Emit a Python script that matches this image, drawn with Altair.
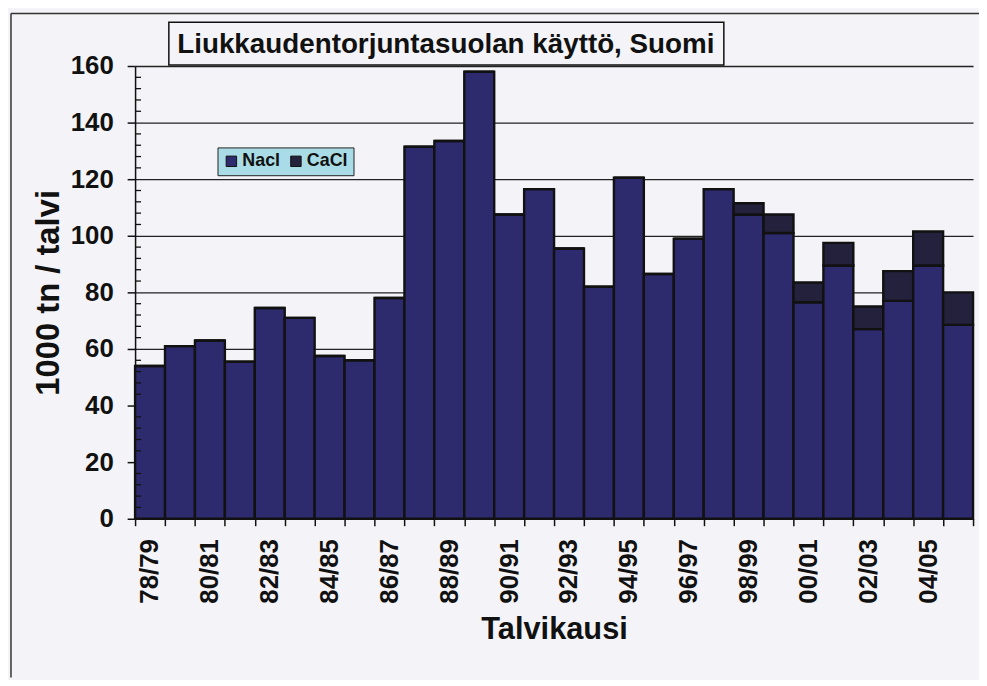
import altair as alt
import pandas as pd

seasons = ["78/79", "79/80", "80/81", "81/82", "82/83", "83/84", "84/85", "85/86",
           "86/87", "87/88", "88/89", "89/90", "90/91", "91/92", "92/93", "93/94",
           "94/95", "95/96", "96/97", "97/98", "98/99", "99/00", "00/01", "01/02",
           "02/03", "03/04", "04/05", "05/06"]
nacl = [54, 61, 63, 55.5, 74.5, 71, 57.5, 56, 78, 131.5, 133.5, 158, 107.5, 116.5,
        95.5, 82, 120.5, 86.5, 99, 116.5, 107.5, 101, 76.5, 89.5, 67, 77, 89.5, 68.5]
cacl = [0, 0, 0, 0, 0, 0, 0, 0, 0, 0, 0, 0, 0, 0, 0, 0, 0, 0, 0, 0,
        4, 6.5, 7, 8, 8, 10.5, 12, 11.5]
series = ["Nacl", "CaCl"]
colors = ["#2e2a6e", "#23213b"]
shown_labels = seasons[::2]
minor_ticks = [v for v in range(0, 161, 4) if v % 20 != 0]

rows = []
for s, a, b in zip(seasons, nacl, cacl):
    rows.append({"season": s, "salt": "Nacl", "value": a, "ord": 0})
    rows.append({"season": s, "salt": "CaCl", "value": b, "ord": 1})
df = pd.DataFrame(rows)

FONT = "Liberation Sans, Arial, sans-serif"
BG = "#f4f4f8"
W, H = 844, 456

label_list = "[" + ",".join("'%s'" % l for l in shown_labels) + "]"

bars = alt.Chart(df).mark_bar(stroke="#111111", strokeWidth=2.4).encode(
    x=alt.X("season:N", sort=seasons,
            scale=alt.Scale(paddingInner=0, paddingOuter=0),
            axis=alt.Axis(title="Talvikausi", labelAngle=270, labelAlign="right",
                          labelBaseline="middle", labelFont=FONT, labelFontSize=26,
                          labelFontWeight="bold", labelColor="#111111",
                          labelExpr="indexof(%s, datum.value) >= 0 ? datum.value : ''" % label_list,
                          tickBand="extent", tickSize=7, tickColor="#111111", tickWidth=1.5,
                          labelPadding=13, domainColor="#111111", domainWidth=1.5,
                          titleFont=FONT, titleFontSize=31, titleFontWeight="bold",
                          titleColor="#111111", titlePadding=12, labelOverlap=False)),
    y=alt.Y("value:Q", stack="zero",
            scale=alt.Scale(domain=[0, 160], nice=False),
            axis=alt.Axis(title="1000 tn / talvi", values=list(range(0, 161, 20)),
                          labelFont=FONT, labelFontSize=26, labelFontWeight="bold",
                          labelColor="#111111", tickSize=8, tickColor="#111111",
                          tickWidth=1.5, labelPadding=14, domainColor="#111111",
                          domainWidth=1.5, gridColor="#222222", gridWidth=1.3,
                          titleFont=FONT, titleFontSize=33, titleFontWeight="bold",
                          titleColor="#111111", titlePadding=5)),
    color=alt.Color("salt:N", sort=series,
                    scale=alt.Scale(domain=series, range=colors),
                    legend=alt.Legend(title=None, orient="none", legendX=83, legendY=82,
                                      direction="horizontal", fillColor="#a9dce6",
                                      strokeColor="#222222", padding=5,
                                      symbolType="square", symbolSize=110,
                                      symbolStrokeColor="#111111", symbolStrokeWidth=1,
                                      labelFont=FONT, labelFontSize=18,
                                      labelFontWeight="bold", labelColor="#111111",
                                      columnPadding=6, labelOffset=2)),
    order=alt.Order("ord:Q", sort="ascending"),
)

minor = alt.Chart(pd.DataFrame({"v": minor_ticks})).mark_rule(
    color="#111111", strokeWidth=1.3).encode(
    y=alt.Y("v:Q"), x=alt.value(0), x2=alt.value(6))

one = pd.DataFrame({"a": [0]})
title_box = alt.Chart(one).mark_rect(fill=BG, stroke="#111111", strokeWidth=1.5).encode(
    x=alt.value(34), x2=alt.value(593), y=alt.value(-44), y2=alt.value(-1))
title_text = alt.Chart(one).mark_text(
    text="Liukkaudentorjuntasuolan käyttö, Suomi", font=FONT, fontSize=28,
    fontWeight="bold", color="#111111", align="center", baseline="middle").encode(
    x=alt.value(313), y=alt.value(-21))
border_top = alt.Chart(one).mark_rule(color="#333333", strokeWidth=1.5).encode(
    x=alt.value(-125), x2=alt.value(W + 10), y=alt.value(-53))
border_left = alt.Chart(one).mark_rule(color="#333333", strokeWidth=1.5).encode(
    x=alt.value(-125), y=alt.value(-53), y2=alt.value(H + 160))

chart = alt.layer(border_top, border_left, bars, minor, title_box, title_text).properties(
    width=W, height=H,
    autosize=alt.AutoSizeParams(type="none"),
    padding={"left": 128, "top": 56, "right": 6, "bottom": 160},
    background=BG,
).configure_view(stroke=None)

chart.save("out.html", embed_options={"renderer": "svg", "actions": False})
